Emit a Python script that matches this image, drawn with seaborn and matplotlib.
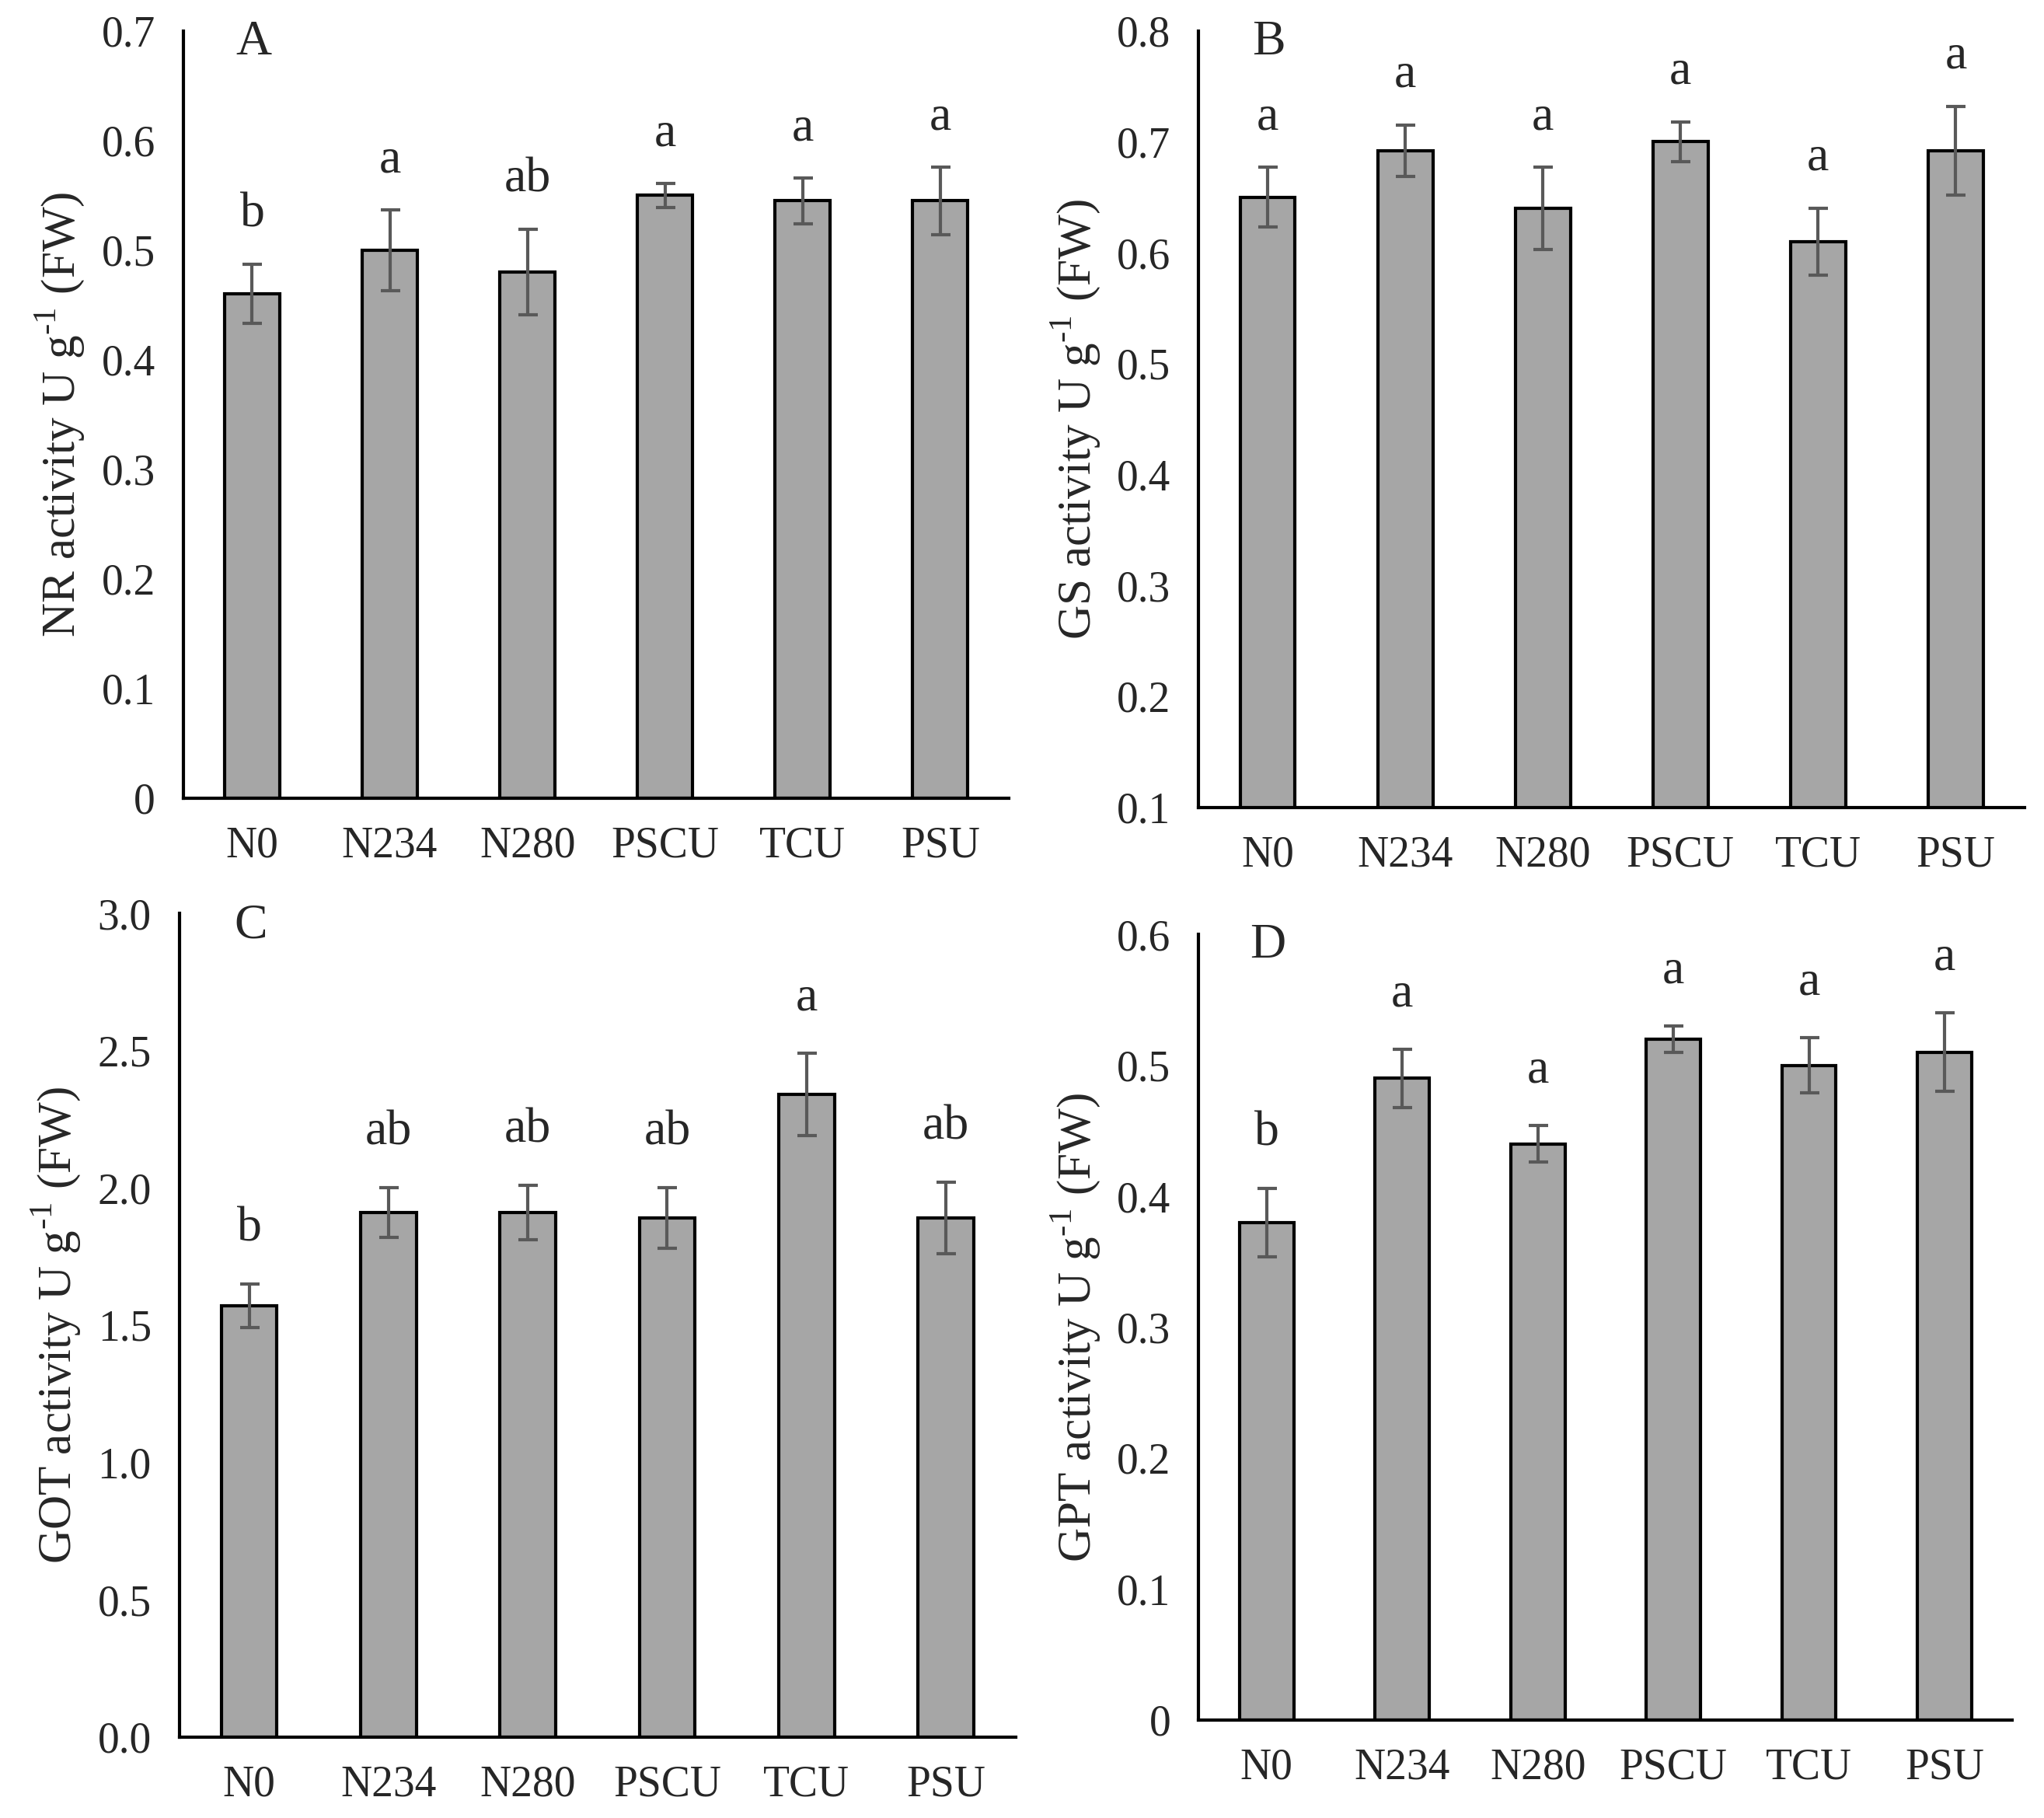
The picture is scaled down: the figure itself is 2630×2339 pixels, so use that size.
import matplotlib
matplotlib.use("Agg")
import matplotlib.pyplot as plt
import seaborn as sns
import pandas as pd

treatments = ["N0", "N234", "N280", "PSCU", "TCU", "PSU"]

# NR activity (A)
nr_mean = [0.46, 0.50, 0.48, 0.55, 0.545, 0.545]
nr_err = [0.027, 0.037, 0.039, 0.011, 0.021, 0.031]
nr_letters = ["b", "a", "ab", "a", "a", "a"]

# GS activity (B)
gs_mean = [0.65, 0.692, 0.64, 0.70, 0.61, 0.692]
gs_err = [0.027, 0.023, 0.037, 0.018, 0.030, 0.040]
gs_letters = ["a", "a", "a", "a", "a", "a"]

# GOT activity (C)
got_mean = [1.57, 1.91, 1.91, 1.89, 2.34, 1.89]
got_err = [0.08, 0.09, 0.10, 0.11, 0.15, 0.13]
got_letters = ["b", "ab", "ab", "ab", "a", "ab"]

# GPT activity (D)
gpt_mean = [0.38, 0.49, 0.44, 0.52, 0.50, 0.51]
gpt_err = [0.026, 0.022, 0.014, 0.010, 0.021, 0.030]
gpt_letters = ["b", "a", "a", "a", "a", "a"]

sns.set_style("white")
plt.rcParams["font.family"] = ["Liberation Serif", "DejaVu Serif"]
plt.rcParams["mathtext.fontset"] = "custom"
plt.rcParams["mathtext.rm"] = "Liberation Serif"

fig = plt.figure(figsize=(26.3, 23.39), dpi=100)

panels = [
    # rect, means, errs, letters, ylabel, ylim, ticks, fmt, tag, letter offset
    ([0.0897, 0.561, 0.404, 0.422], nr_mean, nr_err, nr_letters, "NR", (0, 0.7),
     [0, 0.1, 0.2, 0.3, 0.4, 0.5, 0.6, 0.7], "g", "A", 0.045),
    ([0.5865, 0.556, 0.404, 0.427], gs_mean, gs_err, gs_letters, "GS", (0.1, 0.8),
     [0.1, 0.2, 0.3, 0.4, 0.5, 0.6, 0.7, 0.8], "g", "B", 0.045),
    ([0.0878, 0.0446, 0.409, 0.453], got_mean, got_err, got_letters, "GOT", (0, 3.0),
     [0.0, 0.5, 1.0, 1.5, 2.0, 2.5, 3.0], ".1f", "C", 0.2),
    ([0.5865, 0.054, 0.398, 0.432], gpt_mean, gpt_err, gpt_letters, "GPT", (0, 0.6),
     [0, 0.1, 0.2, 0.3, 0.4, 0.5, 0.6], "g", "D", 0.042),
]

for rect, means, errs, letters, name, ylim, ticks, fmt, tag, off in panels:
    ax = fig.add_axes(rect)
    df = pd.DataFrame({"treatment": treatments, "value": means})
    sns.barplot(data=df, x="treatment", y="value", ax=ax, color="#a6a6a6",
                saturation=1, width=0.4, edgecolor="black", linewidth=3,
                errorbar=None)
    ax.errorbar(range(len(treatments)), means, yerr=errs, fmt="none",
                ecolor="#595959", elinewidth=3, capsize=9, capthick=3)
    for i, (m, e, lab) in enumerate(zip(means, errs, letters)):
        ax.text(i, m + e + off, lab, ha="center", va="center", fontsize=46)
    ax.set_xlim(-0.5, 5.5)
    ax.set_ylim(*ylim)
    ax.set_yticks(ticks)
    ax.set_yticklabels([format(t, fmt) for t in ticks])
    ax.set_xlabel("")
    ax.set_ylabel(name + r" activity U g$^{\text{-1}}$ (FW)", fontsize=44, labelpad=14)
    ax.tick_params(axis="y", direction="in", length=10, width=3, pad=26, labelsize=40)
    ax.tick_params(axis="x", length=0, pad=26, labelsize=40)
    sns.despine(ax=ax)
    for s in ["left", "bottom"]:
        ax.spines[s].set_linewidth(3)
        ax.spines[s].set_color("black")
    ax.text(0.085, 0.985, tag, transform=ax.transAxes, ha="center", va="center",
            fontsize=46)

fig.savefig("out.png", dpi=100)
